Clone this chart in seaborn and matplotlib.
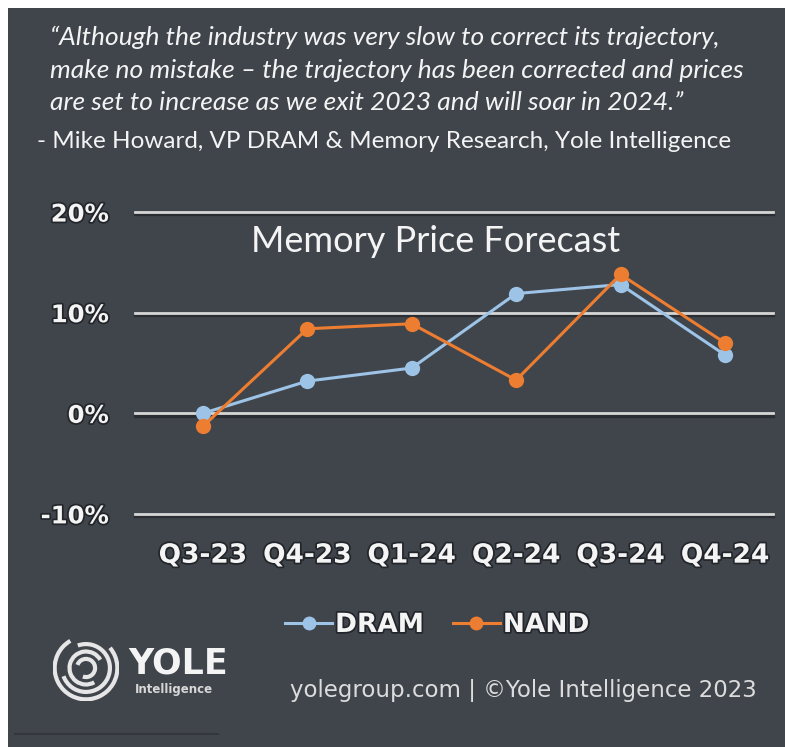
import matplotlib
matplotlib.use('Agg')
import matplotlib.pyplot as plt
import matplotlib.patheffects as pe
from matplotlib.patches import Rectangle, Arc
from matplotlib.lines import Line2D
import seaborn as sns
import pandas as pd

quarters = ['Q3-23', 'Q4-23', 'Q1-24', 'Q2-24', 'Q3-24', 'Q4-24']
dram = [0.0, 3.2, 4.5, 11.9, 12.8, 5.8]
nand = [-1.3, 8.4, 8.9, 3.3, 13.8, 7.0]
yticks = [-10, 0, 10, 20]
ytick_labels = ['-10%', '0%', '10%', '20%']

quote = ['\u201cAlthough the industry was very slow to correct its trajectory,',
         'make no mistake \u2013 the trajectory has been corrected and prices',
         'are set to increase as we exit 2023 and will soar in 2024.\u201d']
attribution = '- Mike Howard, VP DRAM & Memory Research, Yole Intelligence'
title = 'Memory Price Forecast'
footer = 'yolegroup.com | \u00a9Yole Intelligence 2023'

bg = '#40454c'
white = '#f4f4f4'
colors = {'DRAM': '#9dc3e6', 'NAND': '#ed7d31'}

df = pd.DataFrame({'quarter': quarters * 2,
                   'change': dram + nand,
                   'series': ['DRAM'] * len(quarters) + ['NAND'] * len(quarters)})

W, H = 785, 747
fig = plt.figure(figsize=(W / 100, H / 100), dpi=100, facecolor='white')
fig.patches.append(Rectangle((8 / W, 0), (W - 8) / W, (H - 8) / H,
                             transform=fig.transFigure, facecolor=bg,
                             edgecolor='none', zorder=-10))

def fx(px):
    return px / W

def fy(py):
    return 1 - py / H

shadow = [pe.withStroke(linewidth=2.5, foreground='#22252a')]

# chart area
ax = fig.add_axes([fx(135), fy(526), fx(773) - fx(135), fy(200) - fy(526)])
ax.set_facecolor('none')
for y in yticks:
    ax.axhline(y - 0.22, color='#2a2d32', lw=2.4, zorder=1)
    ax.axhline(y, color='#d6d6d6', lw=2.0, zorder=1)
sns.lineplot(data=df, x='quarter', y='change', hue='series', palette=colors,
             marker='o', markersize=11, markeredgewidth=0, linewidth=2.2,
             sort=False, legend=False, ax=ax, zorder=3)
for line in ax.lines:
    line.set_clip_on(False)
ax.set_xlim(-0.65, 5.46)
ax.set_ylim(-11.2, 21.2)
ax.set_yticks(yticks)
ax.set_yticklabels(ytick_labels)
ax.set_xticks(range(len(quarters)))
ax.set_xticklabels(quarters)
ax.tick_params(length=0, colors=white)
ax.tick_params(axis='y', pad=19)
ax.tick_params(axis='x', pad=12)
for lab in ax.get_yticklabels():
    lab.set_fontsize(17.5)
    lab.set_fontweight('bold')
    lab.set_path_effects(shadow)
for lab in ax.get_xticklabels():
    lab.set_fontsize(19)
    lab.set_fontweight('bold')
    lab.set_path_effects(shadow)
ax.set_xlabel('')
ax.set_ylabel('')
for s in ax.spines.values():
    s.set_visible(False)

fig.text(fx(436), fy(252), title, ha='center', va='baseline',
         fontsize=26, color=white, family='Lato')

# quote
for i, line in enumerate(quote):
    fig.text(fx(50), fy(45 + 32.5 * i), line, ha='left', va='baseline', fontsize=19,
             style='italic', color=white, family='Lato')
fig.text(fx(37), fy(148), attribution, ha='left', va='baseline', fontsize=17.5,
         color=white, family='Lato')

# legend
handles = [Line2D([], [], color=colors[k], marker='o', markersize=10, lw=2.2,
                  markeredgewidth=0) for k in colors]
leg = fig.legend(handles, list(colors), loc='center', bbox_to_anchor=(fx(437), fy(625)),
                 ncol=2, frameon=False, handlelength=1.8, handletextpad=0.1,
                 columnspacing=1.1, prop={'size': 19, 'weight': 'bold'})
for t in leg.get_texts():
    t.set_color(white)
    t.set_path_effects(shadow)

# logo
lax = fig.add_axes([fx(53), fy(701), fx(119) - fx(53), fy(635) - fy(701)])
lax.set_xlim(-1, 1)
lax.set_ylim(-1, 1)
lax.set_aspect('equal')
lax.axis('off')
for r, (t1, t2) in zip([1.9, 1.45, 1.0, 0.55],
                        [(120, 400), (200, 470), (30, 300), (250, 520)]):
    lax.add_patch(Arc((0, 0), r, r, theta1=t1, theta2=t2, color='#e6e6e6', lw=3))
fig.text(fx(128), fy(673), 'YOLE', ha='left', va='baseline', fontsize=25,
         fontweight='bold', color=white)
fig.text(fx(135), fy(689), 'Intelligence', ha='left', va='center', fontsize=8.5,
         fontweight='bold', color='#d8d8d8')
fig.text(fx(290), fy(690), footer, ha='left', va='center', fontsize=16.5,
         color='#dcdcdc')
fig.add_artist(Line2D([fx(15), fx(218)], [fy(734), fy(734)], color='#33373d', lw=1.5))

fig.savefig('out.png', dpi=100, facecolor=fig.get_facecolor())
